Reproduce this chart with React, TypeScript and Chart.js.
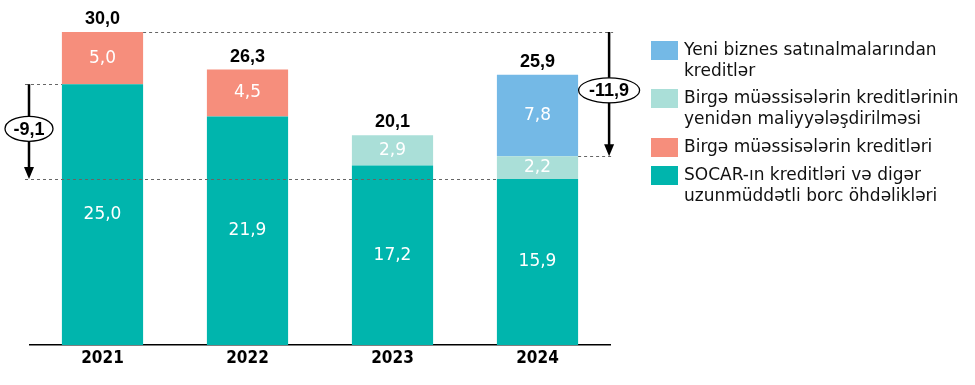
import React, { useEffect, useRef } from "react";
import { Chart, registerables } from "chart.js";
Chart.register(...registerables);

const years = ["2021", "2022", "2023", "2024"];
const socarLoans = [25.0, 21.9, 17.2, 15.9];
const jvLoans = [5.0, 4.5, null, null];
const jvRefinancing = [null, null, 2.9, 2.2];
const acquisitionLoans = [null, null, null, 7.8];
const totalLabels = ["30,0", "26,3", "20,1", "25,9"];
const changeLabels = ["-9,1", "-11,9"];
const seriesNames = [
  "SOCAR-ın kreditləri və digər uzunmüddətli borc öhdəlikləri",
  "Birgə müəssisələrin kreditləri",
  "Birgə müəssisələrin kreditlərinin yenidən maliyyələşdirilməsi",
  "Yeni biznes satınalmalarından kreditlər",
];
const legendLines = [
  ["SOCAR-ın kreditləri və digər", "uzunmüddətli borc öhdəlikləri"],
  ["Birgə müəssisələrin kreditləri"],
  ["Birgə müəssisələrin kreditlərinin", "yenidən maliyyələşdirilməsi"],
  ["Yeni biznes satınalmalarından", "kreditlər"],
];
const colors = ["#00B5AD", "#F68E7C", "#AADFD8", "#74B9E6"];

const fmt = (v: number) => v.toFixed(1).replace(".", ",");

const overlay = {
  id: "overlay",
  afterDatasetsDraw(chart: any) {
    const ctx = chart.ctx;
    const ca = chart.chartArea;
    const metas = [0, 1, 2, 3].map((d) => chart.getDatasetMeta(d));
    ctx.save();
    // segment labels
    ctx.fillStyle = "#ffffff";
    ctx.textAlign = "center";
    ctx.textBaseline = "middle";
    ctx.font = "17px 'DejaVu Sans', sans-serif";
    metas.forEach((m: any, d: number) => {
      const ds = chart.data.datasets[d].data;
      m.data.forEach((el: any, i: number) => {
        if (ds[i] == null) return;
        ctx.fillText(fmt(ds[i]), el.x, (el.y + el.base) / 2);
      });
    });
    // totals
    ctx.fillStyle = "#000";
    ctx.font = "bold 18px 'Liberation Sans', Arial, sans-serif";
    ctx.textBaseline = "alphabetic";
    years.forEach((_, i) => {
      let top = Infinity;
      let x = 0;
      metas.forEach((m: any, d: number) => {
        if (chart.data.datasets[d].data[i] == null) return;
        top = Math.min(top, m.data[i].y);
        x = m.data[i].x;
      });
      ctx.fillText(totalLabels[i], x, top - 8);
    });
    const bar = (d: number, i: number) => metas[d].data[i];
    const half = bar(0, 0).width / 2;
    const b21 = bar(0, 0);
    const b24 = bar(0, 3);
    const yTop21 = bar(1, 0).y;
    const ySoc21 = b21.y;
    const ySoc24 = b24.y;
    const yRef24 = bar(2, 3).y;
    const leftX = ca.left - 1;
    const rightX = b24.x + half + 31;
    // dashed lines
    ctx.strokeStyle = "#666";
    ctx.lineWidth = 1;
    ctx.setLineDash([3, 3]);
    const hline = (x1: number, x2: number, yy: number) => {
      ctx.beginPath();
      ctx.moveTo(x1, Math.round(yy) + 0.5);
      ctx.lineTo(x2, Math.round(yy) + 0.5);
      ctx.stroke();
    };
    hline(b21.x + half, rightX + 4, yTop21);
    hline(leftX - 4, b21.x - half, ySoc21);
    hline(leftX - 4, b24.x - half, ySoc24);
    hline(b24.x + half, rightX + 4, yRef24);
    ctx.setLineDash([]);
    // arrows
    const arrow = (x: number, y1: number, y2: number, label: string, w: number) => {
      ctx.strokeStyle = "#000";
      ctx.lineWidth = 2.5;
      ctx.beginPath();
      ctx.moveTo(x, y1);
      ctx.lineTo(x, y2 - 10);
      ctx.stroke();
      ctx.fillStyle = "#000";
      ctx.beginPath();
      ctx.moveTo(x - 5, y2 - 12);
      ctx.lineTo(x + 5, y2 - 12);
      ctx.lineTo(x, y2);
      ctx.closePath();
      ctx.fill();
      const cy = y1 + (y2 - y1) * 0.47;
      ctx.beginPath();
      ctx.ellipse(x, cy, w / 2, 12.5, 0, 0, Math.PI * 2);
      ctx.fillStyle = "#fff";
      ctx.fill();
      ctx.lineWidth = 1.3;
      ctx.stroke();
      ctx.fillStyle = "#000";
      ctx.font = "bold 18px 'Liberation Sans', Arial, sans-serif";
      ctx.textAlign = "center";
      ctx.textBaseline = "middle";
      ctx.fillText(label, x, cy + 1);
    };
    arrow(leftX, ySoc21, ySoc24, changeLabels[0], 48);
    arrow(rightX, yTop21, yRef24, changeLabels[1], 61);
    // legend
    ctx.font = "17px 'DejaVu Sans', sans-serif";
    ctx.textAlign = "left";
    ctx.textBaseline = "middle";
    const tops = [41, 89, 138, 166];
    [3, 2, 1, 0].forEach((d, k) => {
      const t = tops[k];
      ctx.fillStyle = chart.data.datasets[d].backgroundColor;
      ctx.fillRect(651, t, 27, 19);
      ctx.fillStyle = "#111";
      legendLines[d].forEach((ln, j) => {
        ctx.fillText(ln, 684, t + 10 + j * 21);
      });
    });
    ctx.restore();
  },
};

export default function App() {
  const ref = useRef<HTMLCanvasElement>(null);
  useEffect(() => {
    const data = [socarLoans, jvLoans, jvRefinancing, acquisitionLoans];
    const chart = new Chart(ref.current!, {
      type: "bar",
      data: {
        labels: years,
        datasets: data.map((arr, d) => ({
          label: seriesNames[d],
          data: arr as any,
          backgroundColor: colors[d],
          borderWidth: 0,
          categoryPercentage: 1,
          barPercentage: 0.56,
        })),
      },
      options: {
        responsive: false,
        animation: false,
        layout: { padding: { left: 30, right: 365, top: 32, bottom: 13.6 } },
        plugins: { legend: { display: false }, tooltip: { enabled: false } },
        scales: {
          x: {
            stacked: true,
            grid: { display: false, drawTicks: false },
            border: { display: true, color: "#000", width: 1.5 },
            ticks: {
              color: "#000",
              padding: 3,
              font: { family: "'DejaVu Sans Condensed', 'DejaVu Sans', sans-serif", size: 17, weight: "bold" },
            },
          },
          y: { stacked: true, display: false, min: 0, max: 30 },
        },
      },
      plugins: [overlay],
    });
    return () => chart.destroy();
  }, []);
  return (
    <div style={{ position: "fixed", left: 0, top: 0, width: 975, height: 385, background: "#fff" }}>
      <canvas ref={ref} width={975} height={385} />
    </div>
  );
}
